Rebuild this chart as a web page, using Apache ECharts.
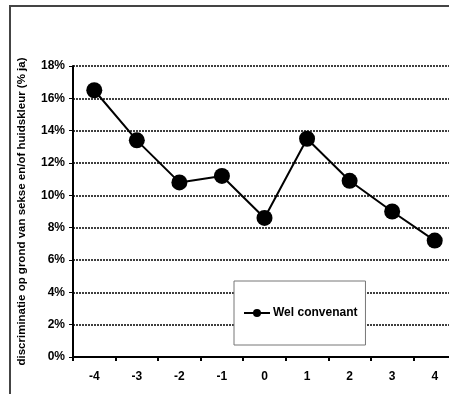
<!DOCTYPE html>
<html>
<head>
<meta charset="utf-8">
<script src="https://cdn.jsdelivr.net/npm/echarts@6/dist/echarts.min.js"></script>
<style>
  html, body { margin: 0; padding: 0; background: #fff; overflow: hidden; }
  /* the original picture is cropped on the right, so the chart is a bit wider than the window */
  #chart { width: 460px; height: 394px; }
</style>
</head>
<body>
<div id="chart"></div>
<script>
// data
const categories = ['-4', '-3', '-2', '-1', '0', '1', '2', '3', '4']
const welConvenant = [16.5, 13.4, 10.8, 11.2, 8.6, 13.5, 10.9, 9.0, 7.2]
const seriesName = 'Wel convenant'
const yAxisName = 'discriminatie op grond van sekse en/of huidskleur (% ja)'

const font = 'Arial, "Liberation Sans", sans-serif'

const chart = echarts.init(document.getElementById('chart'))
const option = {
  animation: false,
  textStyle: { fontFamily: font },
  graphic: [
    {
      type: 'rect',
      z: -1,
      shape: { x: 10, y: 6, width: 520, height: 500 },
      style: { fill: 'none', stroke: '#444', lineWidth: 2 }
    }
  ],
  grid: {
    left: 73,
    top: 66,
    right: 4,
    bottom: 37
  },
  legend: {
    data: [seriesName],
    left: 234,
    top: 281,
    backgroundColor: '#fff',
    borderColor: '#777',
    borderWidth: 1,
    borderRadius: 0,
    padding: [26, 8, 26, 9],
    itemWidth: 26,
    itemHeight: 10,
    itemGap: 0,
    textStyle: { fontFamily: font, fontWeight: 'bold', fontSize: 12, color: '#000', padding: [0, 0, 0, -2] }
  },
  xAxis: {
    type: 'category',
    data: categories,
    boundaryGap: true,
    axisLine: { lineStyle: { color: '#000', width: 2 } },
    axisTick: { show: true, length: 4, lineStyle: { color: '#000', width: 2 } },
    axisLabel: { margin: 14, color: '#000', fontWeight: 'bold', fontSize: 12, fontFamily: font },
    splitLine: { show: false }
  },
  yAxis: {
    type: 'value',
    min: 0,
    max: 18,
    interval: 2,
    name: yAxisName,
    nameLocation: 'middle',
    nameGap: 45,
    nameTextStyle: { color: '#000', fontWeight: 'bold', fontSize: 11.5, fontFamily: font },
    axisLine: { show: true, lineStyle: { color: '#000', width: 2 } },
    axisTick: { show: true, length: 4, lineStyle: { color: '#000', width: 1 } },
    axisLabel: { margin: 8, color: '#000', fontWeight: 'bold', fontSize: 12, fontFamily: font, formatter: '{value}%' },
    splitLine: { show: true, lineStyle: { color: '#000', type: [2, 1], width: 1.5 } }
  },
  series: [
    {
      name: seriesName,
      type: 'line',
      data: welConvenant,
      symbol: 'circle',
      symbolSize: 16,
      itemStyle: { color: '#000' },
      lineStyle: { color: '#000', width: 2 }
    }
  ]
}
chart.setOption(option)
</script>
</body>
</html>
